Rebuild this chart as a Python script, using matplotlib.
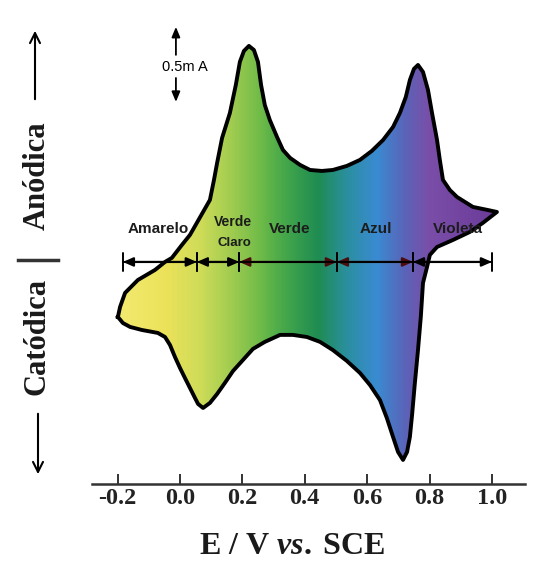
import numpy as np
import matplotlib.pyplot as plt
from matplotlib.colors import LinearSegmentedColormap
from matplotlib.patches import Polygon, FancyArrowPatch
from matplotlib.lines import Line2D

plt.rcParams['axes.unicode_minus'] = False
plt.rcParams['mathtext.fontset'] = 'custom'
plt.rcParams['mathtext.rm'] = 'Liberation Serif:bold'
plt.rcParams['mathtext.it'] = 'Liberation Serif:bold:italic'

# anodic scan (E in V vs SCE, I in mA)
e_fwd = [-0.199, -0.192, -0.176, -0.135, -0.080, -0.048, -0.026, 0.006, 0.032, 0.054,
         0.074, 0.096, 0.109, 0.119, 0.135, 0.160, 0.179, 0.192, 0.205, 0.221,
         0.237, 0.250, 0.260, 0.272, 0.288, 0.311, 0.330, 0.353, 0.385, 0.417,
         0.455, 0.490, 0.535, 0.577, 0.615, 0.651, 0.683, 0.705, 0.724, 0.737,
         0.750, 0.763, 0.779, 0.795, 0.808, 0.824, 0.833, 0.843, 0.865, 0.888,
         0.939, 0.987, 1.016]
i_fwd = [-0.393, -0.321, -0.221, -0.129, -0.057, 0.000, 0.029, 0.121, 0.193, 0.279,
         0.357, 0.443, 0.586, 0.707, 0.886, 1.064, 1.264, 1.429, 1.507, 1.543,
         1.514, 1.429, 1.264, 1.121, 1.014, 0.893, 0.800, 0.743, 0.693, 0.657,
         0.650, 0.657, 0.686, 0.729, 0.793, 0.871, 0.964, 1.064, 1.179, 1.300,
         1.379, 1.407, 1.357, 1.229, 1.064, 0.871, 0.729, 0.586, 0.514, 0.464,
         0.393, 0.371, 0.357]

# cathodic scan, back from the switching point
e_rev = [0.971, 0.929, 0.875, 0.824, 0.801, 0.792, 0.779, 0.772, 0.763, 0.753,
         0.744, 0.737, 0.728, 0.715, 0.699, 0.683, 0.663, 0.641, 0.609, 0.577,
         0.535, 0.490, 0.449, 0.407, 0.362, 0.321, 0.272, 0.234, 0.202, 0.170,
         0.144, 0.119, 0.096, 0.074, 0.058, 0.048, 0.032, 0.016, 0.000, -0.016,
         -0.032, -0.048, -0.071, -0.122, -0.160, -0.183]
i_rev = [0.279, 0.214, 0.157, 0.107, 0.050, -0.036, -0.150, -0.393, -0.629, -0.864,
         -1.093, -1.250, -1.357, -1.414, -1.357, -1.250, -1.114, -0.986, -0.879, -0.793,
         -0.707, -0.629, -0.571, -0.536, -0.521, -0.521, -0.571, -0.621, -0.700, -0.779,
         -0.864, -0.943, -1.007, -1.043, -1.014, -0.971, -0.900, -0.829, -0.757, -0.679,
         -0.593, -0.536, -0.507, -0.486, -0.464, -0.436]

# colour of the film along the potential axis
stop_e = [-0.20, -0.05, 0.06, 0.17, 0.26, 0.33, 0.44, 0.53, 0.63, 0.72, 0.80, 1.02]
stop_c = ['#f2ea70', '#ece25a', '#cfdc58', '#9ccb4f', '#6cba48', '#46a84a',
          '#1f8c52', '#2a8f9c', '#3a8bd2', '#5a64b8', '#7a4ea8', '#6a3a98']

# colour regions and their limits on the potential axis
bounds = [-0.183, 0.054, 0.19, 0.503, 0.747, 1.0]
seg_colors = ['black', 'black', '#4a0c0c', '#4a0c0c', 'black']
region_names = ['Amarelo', 'Verde', 'Azul', 'Violeta']
region_e = [-0.071, 0.353, 0.628, 0.891]

xticks = [-0.2, 0.0, 0.2, 0.4, 0.6, 0.8, 1.0]

W, H = 543, 570


def fpx(px, py):
    return px / W, 1 - py / H


fig = plt.figure(figsize=(W / 100, H / 100), dpi=100)
ax = fig.add_axes([92 / W, 1 - 484 / H, 433 / W, 484 / H])

e_all = np.array(e_fwd + e_rev)
i_all = np.array(i_fwd + i_rev)

emin, emax = stop_e[0], stop_e[-1]
cmap = LinearSegmentedColormap.from_list(
    'cv', [((e - emin) / (emax - emin), c) for e, c in zip(stop_e, stop_c)])

grad = np.linspace(emin, emax, 500)[None, :]
im = ax.imshow(grad, extent=[emin, emax, -1.5, 1.6], cmap=cmap,
               norm=plt.Normalize(emin, emax), aspect='auto', origin='lower',
               interpolation='bilinear', zorder=1)
loop = Polygon(np.column_stack([e_all, i_all]), closed=True,
               facecolor='none', edgecolor='none', transform=ax.transData)
ax.add_patch(loop)
im.set_clip_path(loop)

ax.plot(np.append(e_all, e_all[0]), np.append(i_all, i_all[0]),
        color='black', lw=2.8, solid_joinstyle='round', zorder=3)

# double arrows marking the colour regions
for a, b, col in zip(bounds[:-1], bounds[1:], seg_colors):
    ax.annotate('', xy=(b, 0), xytext=(a, 0),
                arrowprops=dict(arrowstyle='<|-|>,head_length=0.5,head_width=0.22',
                                color=col, lw=1.6, shrinkA=0, shrinkB=0,
                                mutation_scale=12), zorder=4)
    ax.annotate('', xy=(b, 0), xytext=(a, 0),
                arrowprops=dict(arrowstyle='|-|,widthA=0.55,widthB=0.55',
                                color='black', lw=1.4, shrinkA=0, shrinkB=0,
                                mutation_scale=12), zorder=4)

lab_kw = dict(fontsize=11, fontweight='bold', family='Liberation Sans',
              color='#1c1c1c', ha='center', va='center', zorder=5)
for name, e in zip(region_names, region_e):
    ax.text(e, 0.236, name, **lab_kw)
ax.text(0.170, 0.286, 'Verde', **{**lab_kw, 'fontsize': 10})
ax.text(0.173, 0.136, 'Claro', **{**lab_kw, 'fontsize': 9.5})

# current scale bar
ax.text(0.016, 1.393, '0.5m A', fontsize=10.5, family='Liberation Sans',
        ha='center', va='center')
for y0, y1 in [(1.479, 1.679), (1.314, 1.143)]:
    ax.annotate('', xy=(-0.013, y1), xytext=(-0.013, y0),
                arrowprops=dict(arrowstyle='-|>,head_length=0.6,head_width=0.25',
                                color='black', lw=1.3, shrinkA=0, shrinkB=0,
                                mutation_scale=10))

for s in ['top', 'left', 'right']:
    ax.spines[s].set_visible(False)
ax.spines['bottom'].set_color('#333333')
ax.spines['bottom'].set_linewidth(1.8)
ax.set_yticks([])
ax.set_xticks(xticks, [f'{t:.1f}' for t in xticks], fontsize=17.5,
              fontweight='bold', family='Liberation Serif', color='#222222')
ax.tick_params(axis='x', direction='in', length=7.2, width=1.4,
               color='#333333', pad=3)
ax.set_xlim(-0.282, 1.106)
ax.set_ylim(-1.586, 1.871)

ax.set_xlabel(r'E / V $\it{vs.}\;$SCE', fontsize=23, fontweight='bold',
              family='Liberation Serif', color='#1a1a1a')
ax.xaxis.set_label_coords((292 - 92) / 433, (484 - 547) / 484)
ax.xaxis.label.set_va('center')

# anodic / cathodic direction labels
side_kw = dict(rotation=90, ha='center', va='center', fontsize=22,
               fontweight='bold', family='Liberation Serif', color='#1a1a1a')
fig.text(*fpx(37, 176), 'Anódica', **side_kw)
fig.text(*fpx(37, 336), 'Catódica', **side_kw)
fig.add_artist(Line2D([18 / W, 58 / W], [1 - 260 / H] * 2, color='#333333', lw=2.5))
fig.add_artist(FancyArrowPatch(posA=fpx(35, 102), posB=fpx(35, 28),
                               transform=fig.transFigure, arrowstyle='->',
                               mutation_scale=18, lw=1.5, color='black'))
fig.add_artist(FancyArrowPatch(posA=fpx(38, 411), posB=fpx(38, 477),
                               transform=fig.transFigure, arrowstyle='->',
                               mutation_scale=18, lw=1.5, color='black'))

fig.savefig('out.png', dpi=100)
